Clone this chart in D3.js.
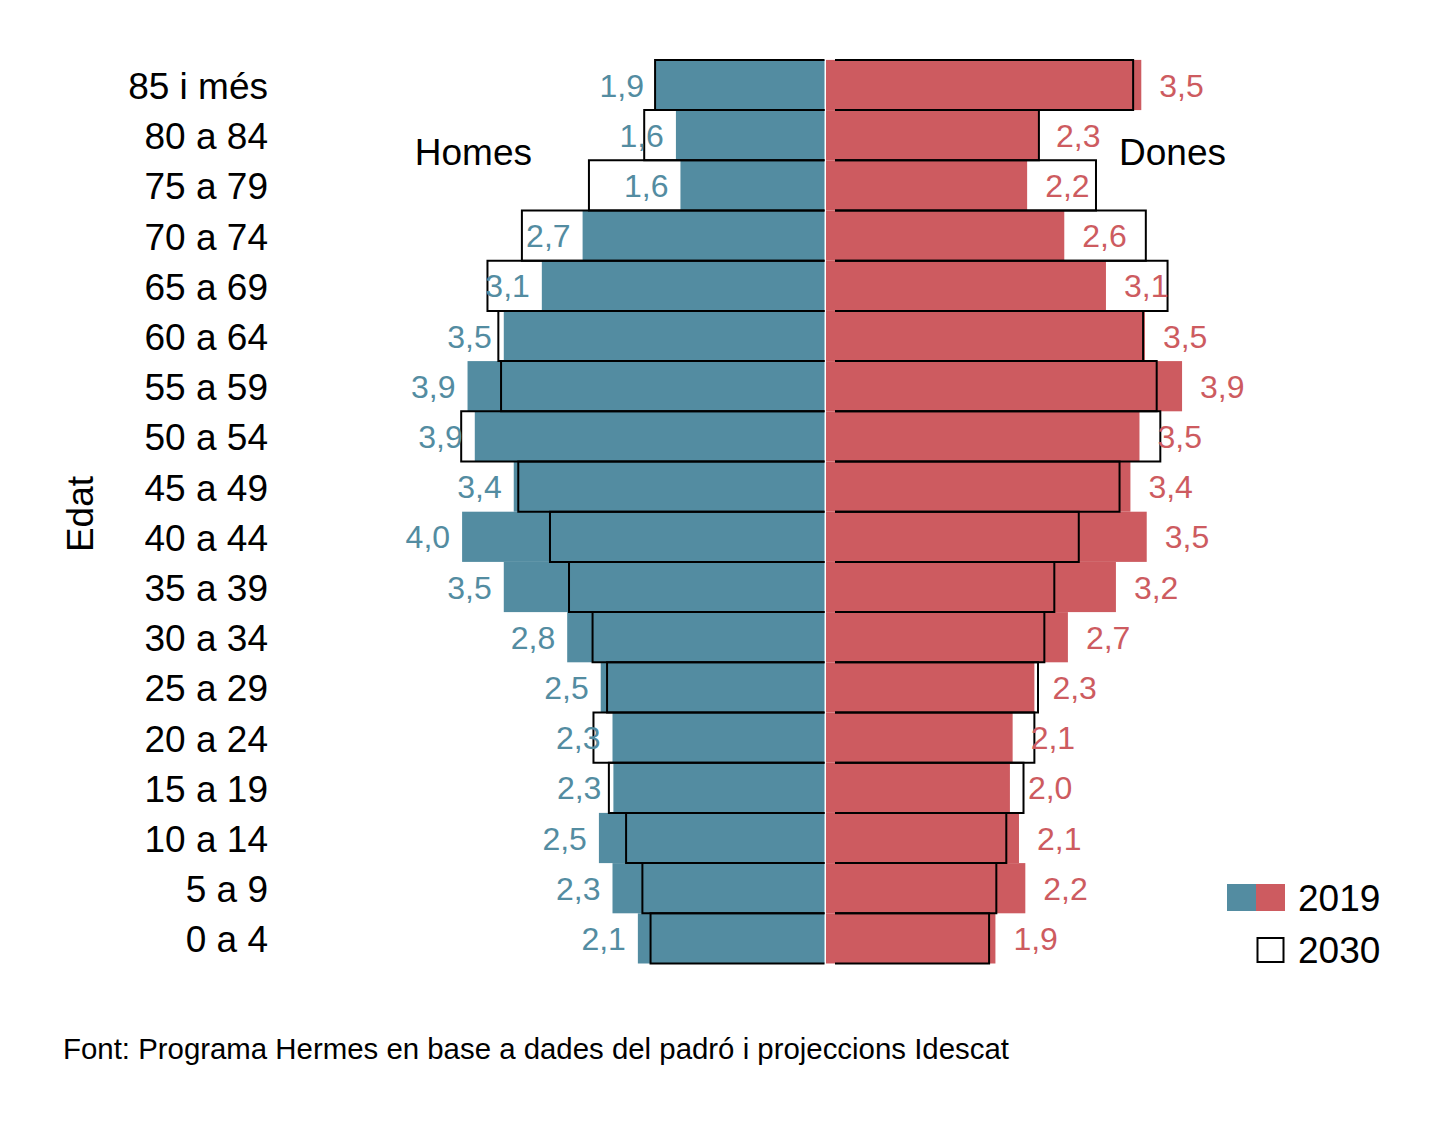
<!DOCTYPE html>
<html>
<head>
<meta charset="utf-8">
<script src="https://cdn.jsdelivr.net/npm/d3@7"></script>
<style>
  body { margin: 0; background: #fff; }
  svg text { font-family: "Liberation Sans", Arial, Helvetica, sans-serif; }
</style>
</head>
<body>
<div id="chart"></div>
<script>
// ---- data (percent of total population), top row first ----
const ageGroups = ['85 i més', '80 a 84', '75 a 79', '70 a 74', '65 a 69', '60 a 64',
  '55 a 59', '50 a 54', '45 a 49', '40 a 44', '35 a 39', '30 a 34',
  '25 a 29', '20 a 24', '15 a 19', '10 a 14', '5 a 9', '0 a 4'];
const men2019 = [1.86, 1.64, 1.59, 2.67, 3.12, 3.54, 3.94, 3.86, 3.43, 4.00, 3.54, 2.84, 2.47, 2.34, 2.33, 2.49, 2.34, 2.06];
const men2030 = [1.87, 1.99, 2.60, 3.34, 3.72, 3.60, 3.57, 4.01, 3.38, 3.03, 2.82, 2.56, 2.40, 2.55, 2.38, 2.19, 2.01, 1.92];
const women2019 = [3.48, 2.34, 2.22, 2.63, 3.09, 3.52, 3.93, 3.46, 3.36, 3.54, 3.20, 2.67, 2.30, 2.06, 2.03, 2.13, 2.20, 1.87];
const women2030 = [3.39, 2.35, 2.98, 3.53, 3.77, 3.50, 3.65, 3.69, 3.24, 2.79, 2.52, 2.41, 2.34, 2.30, 2.18, 1.99, 1.88, 1.80];
const sexLabels = ['Homes', 'Dones'];
const legendLabels = ['2019', '2030'];
const axisTitle = 'Edat';
const sourceNote = 'Font: Programa Hermes en base a dades del padró i projeccions Idescat';

class Pyramid {

  constructor(_config) {
    this.config = {
      parentElement: _config.parentElement,
      containerWidth: 1441,
      containerHeight: 1122,
      centerMen: 824.5,
      centerWomen: 826,
      pxPerUnit: 90.6,
      top: 59.9,
      bottom: 963.5,
      outlineInset: 9, // women 2030 outlines start a bit right of the axis
      colorMen: '#538ca1',
      colorWomen: '#cd5b60'
    };
    this.initVis();
  }

  initVis() {
    let vis = this;
    const c = vis.config;

    vis.rows = ageGroups.map((g, i) => ({
      age: g, m19: men2019[i], m30: men2030[i], w19: women2019[i], w30: women2030[i]
    }));

    // two mirrored linear scales sharing the same unit length
    vis.xMen = d3.scaleLinear().domain([0, 5]).range([c.centerMen, c.centerMen - 5 * c.pxPerUnit]);
    vis.xWomen = d3.scaleLinear().domain([0, 5]).range([c.centerWomen, c.centerWomen + 5 * c.pxPerUnit]);
    vis.yScale = d3.scaleBand().domain(ageGroups).range([c.top, c.bottom]).padding(0);

    vis.fmt = d3.formatLocale({decimal: ',', thousands: '.', grouping: [3], currency: ['', '€']}).format('.1f');

    vis.svg = d3.select(c.parentElement).append('svg')
      .attr('width', c.containerWidth)
      .attr('height', c.containerHeight);

    vis.renderVis();
  }

  renderVis() {
    let vis = this;
    const c = vis.config;
    const bw = vis.yScale.bandwidth();

    // ---- 2019 filled bars ----
    vis.svg.append('g').selectAll('rect.men')
      .data(vis.rows)
      .join('rect')
        .attr('class', 'men')
        .attr('x', d => vis.xMen(d.m19))
        .attr('y', d => vis.yScale(d.age))
        .attr('width', d => vis.xMen(0) - vis.xMen(d.m19))
        .attr('height', bw)
        .attr('fill', c.colorMen);

    vis.svg.append('g').selectAll('rect.women')
      .data(vis.rows)
      .join('rect')
        .attr('class', 'women')
        .attr('x', vis.xWomen(0))
        .attr('y', d => vis.yScale(d.age))
        .attr('width', d => vis.xWomen(d.w19) - vis.xWomen(0))
        .attr('height', bw)
        .attr('fill', c.colorWomen);

    // ---- 2030 outlines (open towards the centre) ----
    const outline = (x0, x1, y0) => `M${x0},${y0}H${x1}V${y0 + bw}H${x0}`;

    vis.svg.append('g').selectAll('path.men30')
      .data(vis.rows)
      .join('path')
        .attr('d', d => outline(vis.xMen(0), vis.xMen(d.m30), vis.yScale(d.age)))
        .attr('fill', 'none')
        .attr('stroke', '#000')
        .attr('stroke-width', 2);

    vis.svg.append('g').selectAll('path.women30')
      .data(vis.rows)
      .join('path')
        .attr('d', d => outline(vis.xWomen(0) + c.outlineInset, vis.xWomen(d.w30), vis.yScale(d.age)))
        .attr('fill', 'none')
        .attr('stroke', '#000')
        .attr('stroke-width', 2);

    // ---- value labels (2019) ----
    vis.svg.append('g').selectAll('text')
      .data(vis.rows)
      .join('text')
        .attr('x', d => vis.xMen(d.m19) - 12)
        .attr('y', d => vis.yScale(d.age) + bw / 2 + 11.5)
        .attr('text-anchor', 'end')
        .attr('font-size', 32)
        .attr('fill', c.colorMen)
        .text(d => vis.fmt(d.m19));

    vis.svg.append('g').selectAll('text')
      .data(vis.rows)
      .join('text')
        .attr('x', d => vis.xWomen(d.w19) + 18)
        .attr('y', d => vis.yScale(d.age) + bw / 2 + 11.5)
        .attr('text-anchor', 'start')
        .attr('font-size', 32)
        .attr('fill', c.colorWomen)
        .text(d => vis.fmt(d.w19));

    // ---- y axis: age group labels, no line or ticks ----
    const yAxis = d3.axisLeft(vis.yScale).tickSize(0).tickPadding(0);
    vis.svg.append('g')
      .attr('transform', 'translate(268,0)')
      .call(yAxis)
      .call(g => g.select('.domain').remove())
      .call(g => g.selectAll('text')
        .attr('font-size', 37)
        .attr('font-family', null)
        .attr('fill', '#000')
        .attr('dy', '0.38em'));

    vis.svg.append('text')
      .attr('transform', 'translate(93,514) rotate(-90)')
      .attr('text-anchor', 'middle')
      .attr('font-size', 37)
      .text(axisTitle);

    // ---- sex labels ----
    vis.svg.append('text')
      .attr('x', 532).attr('y', 165)
      .attr('text-anchor', 'end')
      .attr('font-size', 37)
      .text(sexLabels[0]);
    vis.svg.append('text')
      .attr('x', 1119).attr('y', 165)
      .attr('font-size', 37)
      .text(sexLabels[1]);

    // ---- legend ----
    const legend = vis.svg.append('g');
    legend.append('rect').attr('x', 1227).attr('y', 884).attr('width', 29).attr('height', 27).attr('fill', c.colorMen);
    legend.append('rect').attr('x', 1256).attr('y', 884).attr('width', 29).attr('height', 27).attr('fill', c.colorWomen);
    legend.append('rect').attr('x', 1257.5).attr('y', 938).attr('width', 26).attr('height', 24)
      .attr('fill', '#fff').attr('stroke', '#000').attr('stroke-width', 2);
    legend.selectAll('text')
      .data(legendLabels)
      .join('text')
        .attr('x', 1298)
        .attr('y', (d, i) => 911 + i * 52)
        .attr('font-size', 37)
        .text(d => d);

    // ---- source note ----
    vis.svg.append('text')
      .attr('x', 63).attr('y', 1059)
      .attr('font-size', 29.4)
      .text(sourceNote);
  }
}

new Pyramid({parentElement: '#chart'});
</script>
</body>
</html>
